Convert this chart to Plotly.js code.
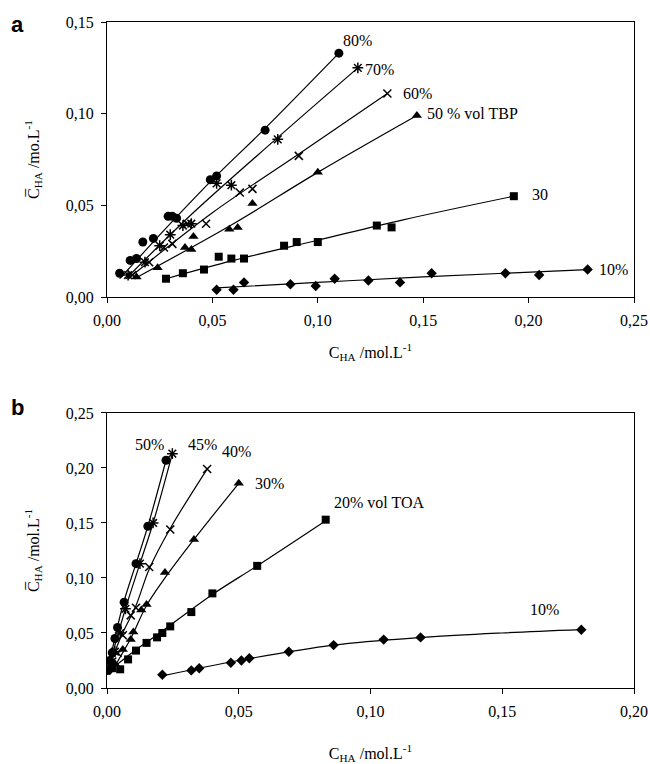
<!DOCTYPE html>
<html><head><meta charset="utf-8">
<script src="https://cdn.plot.ly/plotly-3.0.1.min.js"></script>
<style>body{margin:0;background:#fff}#c{width:650px;height:764px}</style>
</head><body><div id="c"></div>
<script>
// ---- Panel a (TBP) measured points ----
const a80x=[0.006,0.011,0.014,0.017,0.022,0.029,0.031,0.033,0.049,0.052,0.075,0.110];
const a80y=[0.013,0.020,0.021,0.030,0.032,0.044,0.044,0.043,0.064,0.066,0.091,0.133];
const a70x=[0.010,0.018,0.025,0.030,0.036,0.040,0.052,0.059,0.081,0.119];
const a70y=[0.012,0.019,0.028,0.034,0.039,0.040,0.062,0.061,0.086,0.125];
const a60x=[0.012,0.020,0.027,0.031,0.038,0.047,0.063,0.069,0.091,0.133];
const a60y=[0.012,0.019,0.027,0.029,0.040,0.040,0.057,0.059,0.077,0.111];
const a50x=[0.014,0.024,0.037,0.040,0.041,0.058,0.062,0.069,0.100,0.147];
const a50y=[0.011,0.016,0.027,0.026,0.033,0.037,0.038,0.051,0.068,0.099];
const a30x=[0.028,0.036,0.046,0.053,0.059,0.065,0.084,0.090,0.100,0.128,0.135,0.193];
const a30y=[0.010,0.013,0.015,0.022,0.021,0.021,0.028,0.030,0.030,0.039,0.038,0.055];
const a10x=[0.052,0.060,0.065,0.087,0.099,0.108,0.124,0.139,0.154,0.189,0.205,0.228];
const a10y=[0.004,0.004,0.008,0.007,0.006,0.010,0.009,0.008,0.013,0.013,0.012,0.015];
// ---- Panel a fitted curves ----
const c80x=[0.006,0.030,0.050,0.075,0.110], c80y=[0.010,0.040,0.064,0.092,0.133];
const c70x=[0.009,0.040,0.080,0.119], c70y=[0.010,0.045,0.086,0.125];
const c60x=[0.010,0.050,0.091,0.133], c60y=[0.010,0.046,0.078,0.111];
const c50x=[0.013,0.060,0.100,0.147], c50y=[0.010,0.040,0.068,0.099];
const c30x=[0.028,0.060,0.100,0.140,0.193], c30y=[0.010,0.020,0.031,0.042,0.055];
const c10x=[0.052,0.100,0.150,0.228], c10y=[0.005,0.008,0.011,0.015];

// ---- Panel b (TOA) measured points ----
const b50x=[0.0005,0.001,0.002,0.003,0.004,0.0065,0.011,0.0155,0.0224];
const b50y=[0.016,0.025,0.032,0.045,0.055,0.078,0.113,0.147,0.207];
const b45x=[0.001,0.003,0.005,0.007,0.0125,0.0175,0.0248];
const b45y=[0.020,0.033,0.050,0.072,0.113,0.150,0.213];
const b40x=[0.002,0.004,0.006,0.009,0.011,0.016,0.024,0.038];
const b40y=[0.024,0.032,0.048,0.066,0.073,0.110,0.144,0.199];
const b30x=[0.003,0.006,0.009,0.010,0.013,0.015,0.022,0.033,0.050];
const b30y=[0.022,0.035,0.044,0.051,0.071,0.076,0.105,0.135,0.186];
const b20x=[0.002,0.005,0.008,0.011,0.015,0.019,0.021,0.024,0.032,0.040,0.057,0.083];
const b20y=[0.018,0.017,0.026,0.034,0.041,0.046,0.050,0.056,0.069,0.086,0.111,0.153];
const b10x=[0.021,0.032,0.035,0.047,0.051,0.054,0.069,0.086,0.105,0.119,0.180];
const b10y=[0.012,0.016,0.018,0.023,0.025,0.027,0.033,0.039,0.044,0.046,0.053];
// ---- Panel b fitted curves ----
const d50x=[0.000,0.006,0.011,0.0155,0.0224], d50y=[0.013,0.075,0.113,0.147,0.207];
const d45x=[0.000,0.007,0.0125,0.0175,0.0248], d45y=[0.013,0.072,0.113,0.150,0.213];
const d40x=[0.000,0.005,0.011,0.016,0.024,0.038], d40y=[0.012,0.045,0.075,0.108,0.145,0.199];
const d30x=[0.001,0.009,0.015,0.022,0.033,0.050], d30y=[0.012,0.045,0.075,0.100,0.135,0.186];
const d20x=[0.000,0.010,0.020,0.040,0.057,0.083], d20y=[0.014,0.033,0.050,0.085,0.111,0.152];
const d10x=[0.021,0.050,0.086,0.120,0.150,0.180], d10y=[0.011,0.025,0.039,0.046,0.050,0.053];

// tick values
const aXticks=[0,0.05,0.10,0.15,0.20,0.25];
const aYticks=[0,0.05,0.10,0.15];
const bXticks=[0,0.05,0.10,0.15,0.20];
const bYticks=[0,0.05,0.10,0.15,0.20,0.25];

// labels
const aLabels=[["80%",0.111,0.140],["70%",0.1215,0.124],["60%",0.1395,0.111],["50 % vol TBP",0.151,0.1],["30",0.2005,0.056],["10%",0.2325,0.015]];
const bLabels=[["50%",0.0162,0.221],["45%",0.0364,0.221],["40%",0.049,0.215],["30%",0.0617,0.186],["20% vol TOA",0.1034,0.169],["10%",0.166,0.071]];

const line={color:'#000',width:1.2};
function curve(x,y,xa,ya){return {x,y,xaxis:xa,yaxis:ya,mode:'lines',line:Object.assign({shape:'spline'},line),hoverinfo:'skip'};}
function pts(x,y,xa,ya,sym,size,lw){return {x,y,xaxis:xa,yaxis:ya,mode:'markers',marker:{symbol:sym,size:size,color:'#000',line:{color:'#000',width:lw||0}}};}

const data=[
 curve(c80x,c80y,'x','y'),curve(c70x,c70y,'x','y'),curve(c60x,c60y,'x','y'),
 curve(c50x,c50y,'x','y'),curve(c30x,c30y,'x','y'),curve(c10x,c10y,'x','y'),
 pts(a80x,a80y,'x','y','circle',9),
 pts(a70x,a70y,'x','y','asterisk-open',9,1.5),
 pts(a60x,a60y,'x','y','x-thin-open',8,1.5),
 pts(a50x,a50y,'x','y','triangle-up',9),
 pts(a30x,a30y,'x','y','square',8),
 pts(a10x,a10y,'x','y','diamond',8),
 curve(d50x,d50y,'x2','y2'),curve(d45x,d45y,'x2','y2'),curve(d40x,d40y,'x2','y2'),
 curve(d30x,d30y,'x2','y2'),curve(d20x,d20y,'x2','y2'),curve(d10x,d10y,'x2','y2'),
 pts(b50x,b50y,'x2','y2','circle',9),
 pts(b45x,b45y,'x2','y2','asterisk-open',9,1.5),
 pts(b40x,b40y,'x2','y2','x-thin-open',8,1.5),
 pts(b30x,b30y,'x2','y2','triangle-up',9),
 pts(b20x,b20y,'x2','y2','square',8),
 pts(b10x,b10y,'x2','y2','diamond',8)
];

const F='Liberation Serif';
const FS=16;
function ax(extra){
  return Object.assign({showgrid:false,zeroline:false,showline:true,linecolor:'#000',linewidth:1,mirror:true,
   ticks:'outside',ticklen:5,tickcolor:'#000',tickformat:'.2f',tickmode:'array',ticklabelstandoff:4,
   tickfont:{family:F,size:FS,color:'#000'}},extra);
}

const ann=[];
aLabels.forEach(l=>ann.push({x:l[1],y:l[2],xref:'x',yref:'y',text:l[0],showarrow:false,xanchor:'left',yanchor:'middle',font:{family:F,size:FS,color:'#000'}}));
bLabels.forEach(l=>ann.push({x:l[1],y:l[2],xref:'x2',yref:'y2',text:l[0],showarrow:false,xanchor:'center',yanchor:'middle',font:{family:F,size:FS,color:'#000'}}));
const L=107,R=16,T=22,B=76,W=650,H=764;
function px2paper(px,py){return [(px-L)/(W-L-R),(H-B-py)/(H-T-B)];}
const pa=px2paper(17,24), pb=px2paper(17,408);
ann.push({x:pa[0],y:pa[1],xref:'paper',yref:'paper',text:'<b>a</b>',showarrow:false,xanchor:'center',yanchor:'middle',font:{family:'Liberation Sans',size:22,color:'#000'}});
ann.push({x:pb[0],y:pb[1],xref:'paper',yref:'paper',text:'<b>b</b>',showarrow:false,xanchor:'center',yanchor:'middle',font:{family:'Liberation Sans',size:22,color:'#000'}});

function tf(){return {family:F,size:FS,color:'#000'};}
const layout={
 width:W,height:H,margin:{l:L,r:R,t:T,b:B},paper_bgcolor:'#fff',plot_bgcolor:'#fff',
 showlegend:false,separators:',.',font:{family:F,size:FS,color:'#000'},
 xaxis:ax({domain:[0,1],anchor:'y',range:[0,0.25],tickvals:aXticks,
   title:{text:'C<sub>HA</sub> /mol.L<sup>-1</sup>',font:tf(),standoff:18}}),
 yaxis:ax({domain:[0.587,1],anchor:'x',range:[0,0.15],tickvals:aYticks,
   title:{text:'C\u0305<sub>HA</sub> /mo.L<sup>-1</sup>',font:tf(),standoff:22}}),
 xaxis2:ax({domain:[0,1],anchor:'y2',range:[0,0.20],tickvals:bXticks,
   title:{text:'C<sub>HA</sub> /mol.L<sup>-1</sup>',font:tf(),standoff:32}}),
 yaxis2:ax({domain:[0,0.413],anchor:'x2',range:[0,0.25],tickvals:bYticks,
   title:{text:'C\u0305<sub>HA</sub> /mol.L<sup>-1</sup>',font:tf(),standoff:22}}),
 annotations:ann
};
Plotly.newPlot('c',data,layout,{displayModeBar:false,staticPlot:true});
</script></body></html>
